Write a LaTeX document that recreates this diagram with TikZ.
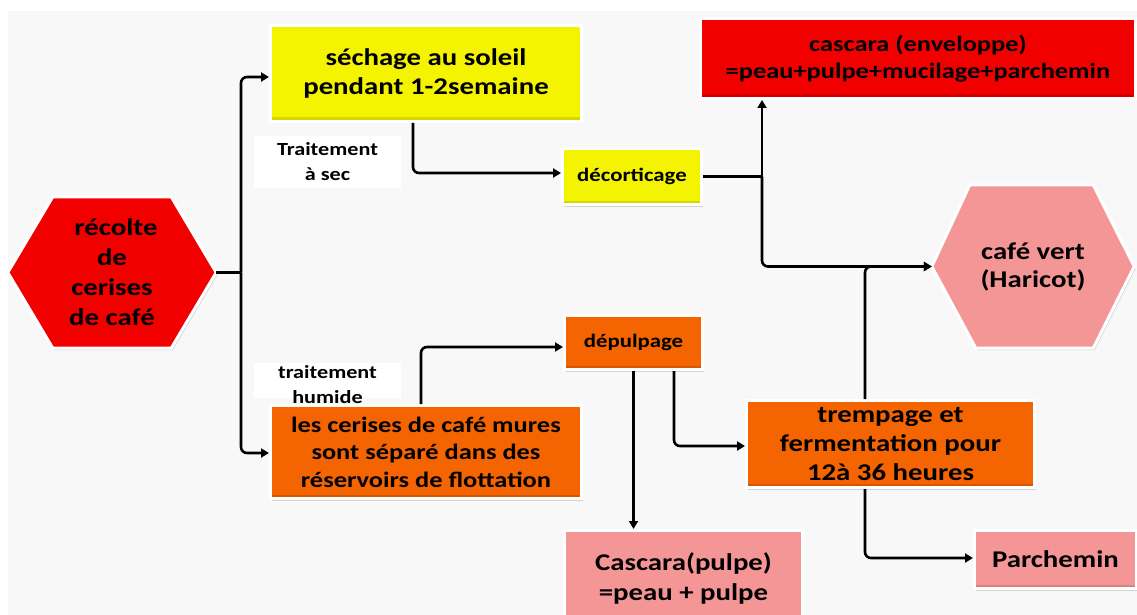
\documentclass[tikz,border=0pt]{standalone}
\usepackage{fontspec}
\setmainfont{Carlito}[FakeStretch=1.2]
\usetikzlibrary{arrows.meta,shadows,backgrounds,calc}
\definecolor{bggray}{HTML}{F8F8F8}
\definecolor{cred}{HTML}{F20000}
\definecolor{cyellow}{HTML}{F4F400}
\definecolor{corange}{HTML}{F46400}
\definecolor{cpink}{HTML}{F59696}
\tikzset{
  myshadow/.style={drop shadow={shadow xshift=1.5pt,shadow yshift=-2pt,opacity=.25,fill=black!60}},
  box/.style={rectangle, draw=white, line width=3pt, inner sep=0pt, align=center, text=black,
    font=\bfseries\fontsize{24}{29}\selectfont, myshadow,
    path picture={\fill[black,opacity=.12] (path picture bounding box.south west) rectangle ([yshift=4pt]path picture bounding box.south east);}},
  hextext/.style={rectangle, inner sep=0pt, align=center, text=black, font=\bfseries\fontsize{24}{30}\selectfont},
  hexshape/.style={draw=white, line width=3pt, myshadow},
  lbl/.style={rectangle, inner sep=0pt, align=center, text=black, font=\bfseries\fontsize{18.5}{25}\selectfont},
  line/.style={line width=2.6pt, rounded corners=6pt},
  conn/.style={line, -{Triangle[length=8pt,width=9pt]}}
}
\begin{document}
\begin{tikzpicture}[x=1pt,y=-1pt]
\useasboundingbox (0,0) rectangle (1137,615);

% boxes
\node[box, fill=cyellow, minimum width=311pt, minimum height=96pt] (sech) at (426,73.5) {séchage au soleil\\pendant 1-2semaine};
\node[box, fill=cyellow, minimum width=139pt, minimum height=56pt, font=\bfseries\fontsize{19}{23}\selectfont] (decort) at (632,176.5) {décorticage};
\node[box, fill=cred, minimum width=435pt, minimum height=80pt, font=\bfseries\fontsize{22}{27}\selectfont] (casc1) at (918,58.5) {cascara (enveloppe)\\=peau+pulpe+mucilage+parchemin};
\node[box, fill=corange, minimum width=311pt, minimum height=93pt, font=\bfseries\fontsize{22}{27.5}\selectfont] (cerises) at (426,452) {les cerises de café mures\\sont séparé dans des\\réservoirs de flottation};
\node[box, fill=corange, minimum width=138pt, minimum height=54pt, font=\bfseries\fontsize{19}{23}\selectfont] (depulp) at (633.5,342.5) {dépulpage};
\node[box, fill=corange, minimum width=288pt, minimum height=87pt, font=\bfseries\fontsize{24}{29}\selectfont] (tremp) at (890.5,444) {trempage et\\fermentation pour\\12à 36 heures};
\node[box, fill=cpink, minimum width=238pt, minimum height=95pt, font=\bfseries\fontsize{24}{30}\selectfont] (casc2) at (683.5,578) {Cascara(pulpe)\\=peau + pulpe};
\node[box, fill=cpink, minimum width=162pt, minimum height=58pt] (parch) at (1055.5,559.5) {Parchemin};

% hexagon texts
\node[hextext, minimum width=208pt, minimum height=151pt] (rec) at (112,272.5) {\hspace*{8pt}récolte\\de\\cerises\\de café};
\node[hextext, minimum width=202pt, minimum height=163pt, font=\bfseries\fontsize{24}{28}\selectfont] (cafe) at (1033,266.5) {café vert\\(Haricot)};

% labels
\node[lbl, fill=white, minimum width=147pt, minimum height=52pt] (lblA) at (327.5,162) {Traitement\\à sec};
\node[fill=white, inner sep=0pt, minimum width=147pt, minimum height=35pt] (lblBbg) at (327.5,380.5) {};
\node[lbl] (lblB) at (327.5,385) {traitement\\humide};

% background and hexagons
\begin{scope}[on background layer]
\fill[bggray] (8,11) rectangle (1137,615);
\path[hexshape, fill=cred] ([xshift=45pt]rec.north west) -- ([xshift=-45pt]rec.north east) -- (rec.east) -- ([xshift=-45pt]rec.south east) -- ([xshift=45pt]rec.south west) -- (rec.west) -- cycle;
\path[hexshape, fill=cpink] ([xshift=38pt]cafe.north west) -- ([xshift=-41pt]cafe.north east) -- (cafe.east) -- ([xshift=-41pt]cafe.south east) -- ([xshift=44pt]cafe.south west) -- (cafe.west) -- cycle;
\end{scope}

% connectors
\coordinate (j1) at (241,272.5);
\coordinate (j2) at (762,176.5);
\draw[line] (rec.east) -- (j1);
\draw[conn] (j1) |- ([yshift=-3.5pt]sech.west);
\draw[conn] (j1) |- ([yshift=-1pt]cerises.west);
\draw[conn] ([xshift=-13pt]sech.south) |- ([yshift=3.5pt]decort.west);
\draw[line] (decort.east) -- (j2);
\draw[conn] (j2) -- (j2 |- casc1.south);
\draw[conn] (j2) |- (cafe.west);
\draw[conn] ([xshift=-25.5pt]tremp.north) |- (cafe.west);
\draw[conn] ([xshift=-5pt]cerises.north) |- ([yshift=-4.5pt]depulp.west);
\draw[conn] (depulp.south) -- (depulp.south |- casc2.north);
\draw[conn] ([xshift=40.5pt]depulp.south) |- ([yshift=-2pt]tremp.west);
\draw[conn] ([xshift=-25.5pt]tremp.south) |- ([yshift=1.5pt]parch.west);
\end{tikzpicture}
\end{document}
